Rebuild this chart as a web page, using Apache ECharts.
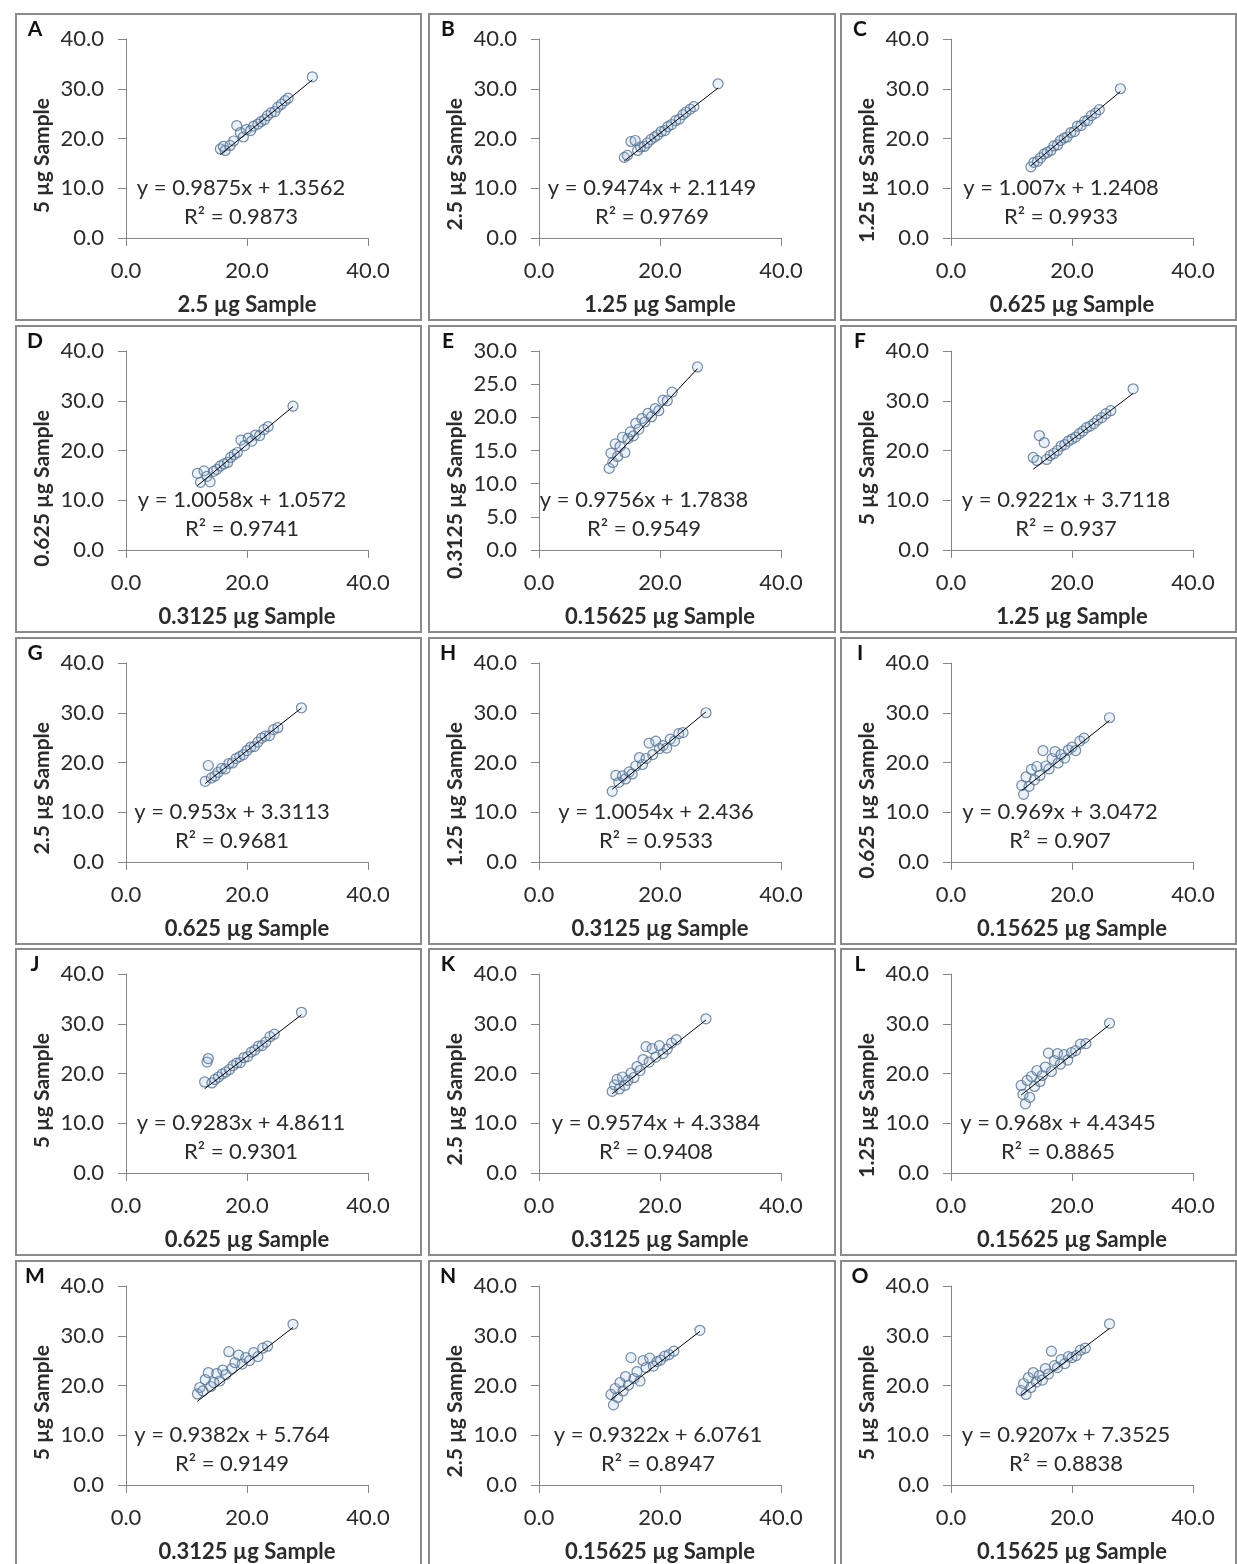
<!DOCTYPE html>
<html><head><meta charset="utf-8">
<script src="https://cdn.jsdelivr.net/npm/echarts@6/dist/echarts.min.js"></script>
<style>html,body{margin:0;padding:0;background:#fff}#c{width:1237px;height:1564px}</style>
</head><body><div id="c"></div>
<script>
// ---------- DATA ----------
const letters = ['A','B','C','D','E','F','G','H','I','J','K','L','M','N','O'];
const xTitles = ['2.5 µg Sample','1.25 µg Sample','0.625 µg Sample','0.3125 µg Sample','0.15625 µg Sample',
  '1.25 µg Sample','0.625 µg Sample','0.3125 µg Sample','0.15625 µg Sample',
  '0.625 µg Sample','0.3125 µg Sample','0.15625 µg Sample',
  '0.3125 µg Sample','0.15625 µg Sample','0.15625 µg Sample'];
const yTitles = ['5 µg Sample','2.5 µg Sample','1.25 µg Sample','0.625 µg Sample','0.3125 µg Sample',
  '5 µg Sample','2.5 µg Sample','1.25 µg Sample','0.625 µg Sample',
  '5 µg Sample','2.5 µg Sample','1.25 µg Sample',
  '5 µg Sample','2.5 µg Sample','5 µg Sample'];
const slopes =     [0.9875,0.9474,1.007,1.0058,0.9756,0.9221,0.953,1.0054,0.969,0.9283,0.9574,0.968,0.9382,0.9322,0.9207];
const intercepts = [1.3562,2.1149,1.2408,1.0572,1.7838,3.7118,3.3113,2.436,3.0472,4.8611,4.3384,4.4345,5.764,6.0761,7.3525];
const equations = ['y = 0.9875x + 1.3562','y = 0.9474x + 2.1149','y = 1.007x + 1.2408','y = 1.0058x + 1.0572',
  'y = 0.9756x + 1.7838','y = 0.9221x + 3.7118','y = 0.953x + 3.3113','y = 1.0054x + 2.436','y = 0.969x + 3.0472',
  'y = 0.9283x + 4.8611','y = 0.9574x + 4.3384','y = 0.968x + 4.4345','y = 0.9382x + 5.764','y = 0.9322x + 6.0761',
  'y = 0.9207x + 7.3525'];
const r2Values = ['0.9873','0.9769','0.9933','0.9741','0.9549','0.937','0.9681','0.9533','0.907','0.9301','0.9408','0.8865','0.9149','0.8947','0.8838'];
const yAxisMax = [40,40,40,40,30,40,40,40,40,40,40,40,40,40,40];
const yAxisStep = [10,10,10,10,5,10,10,10,10,10,10,10,10,10,10];
const xAxisTicks = [0,20,40];

const xA=[15.6,16.1,16.4,17.2,17.8,18.3,18.9,19.4,19.9,20.6,21.1,21.8,22.3,22.9,23.4,24.0,24.6,25.1,25.7,26.3,26.8,30.8];
const yA=[17.9,18.4,17.6,18.6,19.5,22.6,21.2,20.3,21.8,21.6,22.5,22.9,23.4,23.8,24.6,25.2,25.4,26.3,26.9,27.6,28.1,32.4];
const xB=[14.1,14.6,15.2,15.9,16.3,16.8,17.4,17.9,18.5,19.1,19.6,20.2,20.8,21.3,21.9,22.6,23.2,23.8,24.3,25.0,25.6,29.6];
const yB=[16.2,16.6,19.4,19.6,17.6,18.3,18.4,19.1,19.8,20.3,20.7,21.4,21.6,22.4,22.8,23.6,23.9,24.8,25.3,25.9,26.4,31.0];
const xC=[13.2,13.7,14.3,14.8,15.4,15.9,16.5,17.0,17.6,18.1,18.7,19.2,19.8,20.4,20.9,21.5,22.1,22.6,23.2,23.9,24.5,28.0];
const yC=[14.3,15.2,15.4,16.1,16.9,17.2,17.6,18.5,18.7,19.6,20.1,20.3,21.2,21.4,22.5,22.6,23.5,23.6,24.6,25.1,25.8,30.0];
const xD=[11.8,12.3,12.9,13.4,13.9,14.5,15.0,15.6,16.2,16.8,17.3,17.9,18.4,19.0,19.6,20.2,20.8,21.4,22.1,22.8,23.5,27.6];
const yD=[15.4,13.6,15.9,14.8,13.7,15.8,16.2,16.9,17.3,17.6,18.6,19.2,19.6,22.1,21.0,22.5,21.9,23.1,23.0,24.2,24.8,28.9];
const xE=[11.6,11.9,12.2,12.6,13.0,13.4,13.8,14.2,14.7,15.1,15.6,16.0,16.5,17.0,17.5,18.0,18.6,19.2,19.8,20.5,21.2,22.0,26.2];
const yE=[12.3,14.6,13.2,16.0,14.1,15.6,17.0,14.7,16.8,17.8,17.2,19.1,18.2,19.8,19.3,20.6,20.1,21.3,21.0,22.6,22.5,23.8,27.6];
const xF=[13.6,14.2,14.6,15.4,15.8,16.4,17.0,17.6,18.2,18.8,19.4,20.0,20.6,21.2,21.8,22.4,23.0,23.6,24.2,24.9,25.6,26.4,30.1];
const yF=[18.6,18.0,23.0,21.6,18.2,19.0,19.4,20.0,20.9,21.2,21.9,22.3,22.7,23.4,23.9,24.6,24.9,25.4,26.1,26.6,27.4,28.0,32.4];
const xG=[13.1,13.6,14.1,14.7,15.2,15.8,16.4,17.0,17.6,18.2,18.8,19.4,20.0,20.6,21.2,21.8,22.4,23.0,23.7,24.4,25.1,29.0];
const yG=[16.2,19.4,16.9,17.3,18.0,18.8,18.7,19.8,19.9,20.8,21.2,21.6,22.4,23.1,23.2,24.1,24.9,25.3,25.4,26.6,27.0,31.0];
const xH=[12.1,12.7,13.2,13.8,14.3,14.9,15.4,16.0,16.6,17.1,17.7,18.2,18.8,19.3,19.9,20.5,21.1,21.7,22.4,23.1,23.8,27.6];
const yH=[14.2,17.4,16.0,17.3,16.7,18.1,17.7,19.3,21.0,19.6,20.8,23.9,21.6,24.3,22.8,23.4,22.9,24.7,24.3,25.8,26.0,30.0];
const xI=[11.7,12.0,12.4,12.9,13.3,13.8,14.2,14.7,15.2,15.7,16.2,16.7,17.2,17.7,18.2,18.8,19.4,20.0,20.6,21.3,22.0,26.2];
const yI=[15.4,13.6,17.1,15.2,18.6,16.5,19.2,17.4,22.4,19.3,18.7,20.8,22.2,19.9,21.6,20.9,22.5,23.1,22.4,24.3,24.9,29.0];
const xJ=[13.0,13.4,13.6,14.2,14.7,15.3,15.9,16.5,17.1,17.7,18.3,18.9,19.5,20.1,20.7,21.3,21.9,22.5,23.1,23.8,24.5,29.0];
const yJ=[18.3,22.3,23.0,18.1,18.8,19.3,19.9,20.3,20.8,21.6,22.1,22.2,23.2,23.4,24.3,24.7,25.5,25.6,26.3,27.4,27.9,32.3];
const xK=[12.1,12.5,12.9,13.3,13.8,14.2,14.7,15.2,15.7,16.2,16.7,17.2,17.7,18.2,18.7,19.3,19.9,20.5,21.2,21.9,22.7,27.6];
const yK=[16.4,17.7,18.8,16.9,19.3,17.6,18.6,20.1,19.2,21.4,20.6,22.8,25.4,22.3,25.0,23.3,25.6,24.0,24.9,26.1,26.8,31.0];
const xL=[11.6,11.9,12.3,12.6,13.0,13.3,13.8,14.2,14.7,15.1,15.6,16.1,16.6,17.1,17.6,18.1,18.7,19.3,19.9,20.6,21.4,22.3,26.2];
const yL=[17.6,15.8,13.9,18.6,15.2,19.4,17.4,20.6,18.4,19.6,21.3,24.1,20.4,22.6,24.0,21.9,23.8,22.7,24.2,24.6,25.9,26.0,30.1];
const xM=[11.8,12.2,12.7,13.1,13.6,14.0,14.5,15.0,15.5,16.0,16.5,17.0,17.5,18.0,18.6,19.2,19.8,20.4,21.1,21.8,22.6,23.4,27.6];
const yM=[18.3,19.6,18.9,21.2,22.6,19.8,20.6,22.4,20.9,23.1,22.2,26.8,23.4,24.6,26.1,24.3,25.6,25.0,26.6,25.8,27.5,27.9,32.3];
const xN=[11.9,12.3,12.6,13.0,13.4,13.9,14.3,14.8,15.2,15.7,16.2,16.7,17.2,17.7,18.3,18.9,19.5,20.1,20.8,21.5,22.3,26.6];
const yN=[18.2,16.1,19.4,17.6,20.6,18.9,21.8,20.1,25.6,21.4,22.8,20.9,25.0,23.6,25.5,23.9,24.8,25.1,25.9,26.2,26.9,31.1];
const xO=[11.6,12.0,12.4,12.8,13.2,13.6,14.1,14.6,15.1,15.6,16.1,16.6,17.1,17.6,18.2,18.8,19.4,20.0,20.7,21.4,22.2,26.2];
const yO=[19.0,20.4,18.2,21.6,19.6,22.6,20.7,22.0,21.1,23.4,22.3,26.9,24.0,23.6,25.2,24.4,25.8,25.6,26.0,27.1,27.5,32.4];

const xSets = [xA,xB,xC,xD,xE,xF,xG,xH,xI,xJ,xK,xL,xM,xN,xO];
const ySets = [yA,yB,yC,yD,yE,yF,yG,yH,yI,yJ,yK,yL,yM,yN,yO];

// ---------- LAYOUT ----------
const colLeft = [126, 539, 951];
const rowTop = [39, 351, 663, 974, 1286];
const gridW = 242, gridH = 199;
const panelW = [405, 406, 395];
const eqDx = [115,113,110,116,105,115,106,117,109,115,117,107,106,119,115];
const FONT = 'Lato, "Noto Sans", sans-serif';
const TXT = '#2b2b2b';
const AXC = '#868686';

const grids = [], xAxes = [], yAxes = [], series = [], graphics = [];
letters.forEach((L, i) => {
  const r = Math.floor(i / 3), c = i % 3;
  const gl = colLeft[c], gt = rowTop[r];
  grids.push({left: gl, top: gt, width: gridW, height: gridH});
  const axisCommon = {
    axisLine: {show: true, onZero: false, lineStyle: {color: AXC, width: 1}},
    axisTick: {show: true, length: 8, lineStyle: {color: AXC}},
    splitLine: {show: false},
    axisLabel: {fontFamily: FONT, fontSize: 22, color: TXT, formatter: v => v.toFixed(1)}
  };
  xAxes.push(Object.assign({}, axisCommon, {
    gridIndex: i, type: 'value', min: xAxisTicks[0], max: xAxisTicks[2], interval: xAxisTicks[1] - xAxisTicks[0],
    axisLabel: Object.assign({}, axisCommon.axisLabel, {margin: 22})
  }));
  yAxes.push(Object.assign({}, axisCommon, {
    gridIndex: i, type: 'value', min: 0, max: yAxisMax[i], interval: yAxisStep[i],
    axisLabel: Object.assign({}, axisCommon.axisLabel, {margin: 22})
  }));
  const xs = xSets[i], ys = ySets[i];
  series.push({
    type: 'scatter', xAxisIndex: i, yAxisIndex: i, z: 2,
    data: xs.map((x, j) => [x, ys[j]]),
    symbol: 'circle', symbolSize: 10,
    itemStyle: {color: 'rgba(150,185,225,0.25)', borderColor: '#56708f', borderWidth: 1.2}
  });
  const x0 = Math.min(...xs), x1 = Math.max(...xs);
  series.push({
    type: 'line', xAxisIndex: i, yAxisIndex: i, z: 3, symbol: 'none', silent: true,
    data: [[x0, slopes[i] * x0 + intercepts[i]], [x1, slopes[i] * x1 + intercepts[i]]],
    lineStyle: {color: '#000', width: 1}
  });
  // panel frame
  graphics.push({type: 'rect', shape: {x: gl - 110, y: gt - 25, width: panelW[c], height: 306},
    style: {fill: 'none', stroke: '#8a8a8a', lineWidth: 2}, z: 0});
  // letter
  graphics.push({type: 'text', x: gl - 91, y: gt - 10,
    style: {text: L, fontFamily: FONT, fontWeight: 'bold', fontSize: 21, fill: '#111', textAlign: 'center', textVerticalAlign: 'middle'}});
  // x title
  graphics.push({type: 'text', x: gl + gridW / 2, y: gt + gridH + 67,
    style: {text: xTitles[i], fontFamily: FONT, fontWeight: 'bold', fontSize: 22, fill: TXT, textAlign: 'center', textVerticalAlign: 'middle'}});
  // y title (rotated, top anchored)
  graphics.push({type: 'text', x: gl - 84, y: gt + 59, rotation: Math.PI / 2,
    style: {text: yTitles[i], fontFamily: FONT, fontWeight: 'bold', fontSize: 21, fill: TXT, textAlign: 'right', textVerticalAlign: 'middle'}});
  // equation + R2
  graphics.push({type: 'text', x: gl + eqDx[i], y: gt + 149, z: 10,
    style: {text: equations[i], fontFamily: FONT, fontSize: 22, fill: TXT, textAlign: 'center', textVerticalAlign: 'middle'}});
  graphics.push({type: 'text', x: gl + eqDx[i], y: gt + 178, z: 10,
    style: {text: 'R² = ' + r2Values[i], fontFamily: FONT, fontSize: 22, fill: TXT, textAlign: 'center', textVerticalAlign: 'middle'}});
});

const chart = echarts.init(document.getElementById('c'), null, {renderer: 'canvas'});
chart.setOption({
  animation: false,
  backgroundColor: '#fff',
  grid: grids, xAxis: xAxes, yAxis: yAxes, series: series,
  graphic: graphics
});
</script></body></html>
